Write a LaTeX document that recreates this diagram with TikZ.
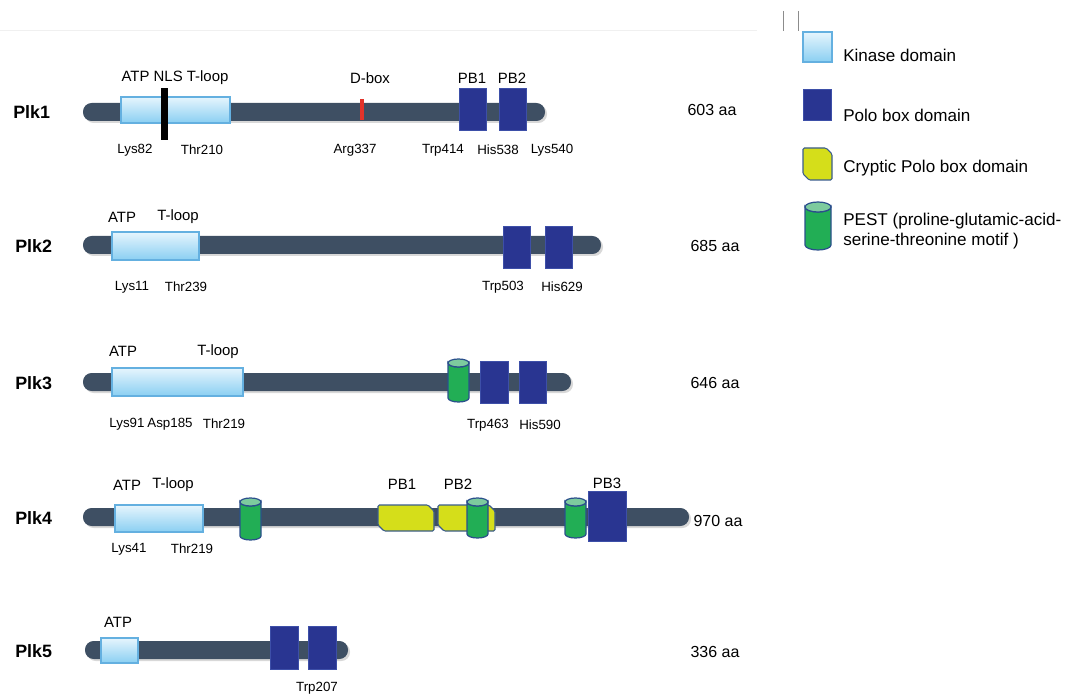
\documentclass[tikz,border=0pt]{standalone}
\usepackage{fontspec}
\setmainfont{Liberation Sans}
\definecolor{barc}{HTML}{3E4F63}
\definecolor{kint}{HTML}{E6F5FD}
\definecolor{kinbot}{HTML}{8ACFF2}
\definecolor{kinb}{HTML}{64B0E0}
\definecolor{poloc}{HTML}{293591}
\definecolor{polob}{HTML}{3D4FA8}
\definecolor{cryc}{HTML}{D5DE1A}
\definecolor{cryb}{HTML}{3B5C8C}
\definecolor{pestc}{HTML}{22AE55}
\definecolor{pesttopc}{HTML}{7DCB9E}
\definecolor{pestb}{HTML}{2B4F8C}
\definecolor{dboxc}{HTML}{E2332A}
\newcommand\pbar[3]{% x1 x2 yc
  \fill[black!30,opacity=0.5,rounded corners=6.5pt] (#1+2,#3-7) rectangle (#2+2,#3+11);
  \fill[barc,rounded corners=6.5pt] (#1,#3-9) rectangle (#2,#3+9);}
\newcommand\kinbox[4]{\draw[kin] (#1,#3) rectangle (#2,#4);}
\newcommand\polobox[4]{\draw[polo] (#1,#3) rectangle (#2,#4);}
\newcommand\crybox[4]{\draw[cry] (#1,#3) -- (#2-6,#3) -- (#2,#3+6) -- (#2,#4) -- (#1+6,#4) -- (#1,#4-6) -- cycle;}
\newcommand\pestcyl[5]{% x1 x2 y1 y2 ry
  \draw[pestbody] (#1,#3+#5) -- (#1,#4-#5) arc[start angle=180,end angle=0,x radius={(#2-#1)/2},y radius=#5] -- (#2,#3+#5) arc[start angle=0,end angle=180,x radius={(#2-#1)/2},y radius=#5] -- cycle;
  \draw[pesttop] ({(#1+#2)/2},#3+#5) ellipse[x radius={(#2-#1)/2},y radius=#5];}
\tikzset{
 kin/.style={draw=kinb, line width=0.9pt, top color=kint, bottom color=kinbot},
 polo/.style={fill=poloc, draw=polob, line width=0.6pt},
 cry/.style={fill=cryc, draw=cryb, line width=0.8pt, rounded corners=1pt},
 pestbody/.style={fill=pestc, draw=pestb, line width=0.9pt},
 pesttop/.style={fill=pesttopc, draw=pestb, line width=0.9pt},
 lab/.style={inner sep=0pt, font=\fontsize{10}{12}\selectfont},
 toplab/.style={inner sep=0pt, font=\fontsize{11.2}{13}\selectfont},
 pname/.style={inner sep=0pt, anchor=west, font=\bfseries\fontsize{13.4}{15}\selectfont},
 len/.style={inner sep=0pt, font=\fontsize{12}{14}\selectfont},
 leg/.style={inner sep=0pt, anchor=west, align=left, font=\fontsize{12.8}{15.5}\selectfont},
}
\begin{document}
\begin{tikzpicture}[x=0.75pt,y=-0.75pt]
\useasboundingbox (0,0) rectangle (1067,695);
% top decorations
\draw[black!6,line width=0.6pt] (0,30) -- (757,30);
\draw[black!45,line width=0.4pt] (783,11) -- (783,31);
\draw[black!45,line width=0.4pt] (798,11) -- (798,31);

% ---------- Plk1 ----------
\pbar{83}{545}{112}
\kinbox{121}{230}{97}{123}
\fill[black] (161,88) rectangle (168,140);
\fill[dboxc] (360,99) rectangle (364,120);
\polobox{459}{486}{88}{130}
\polobox{499}{526}{88}{130}
\node[pname] (n1) at (13,112) {Plk1};
\node[toplab] (t1a) at (175,78) {ATP NLS T-loop};
\node[toplab] (t1b) at (370,78) {D-box};
\node[toplab] (t1c) at (472,78) {PB1};
\node[toplab] (t1d) at (512,78) {PB2};
\node[lab] (b1a) at (135,150) {Lys82};
\node[lab] (b1b) at (202,150) {Thr210};
\node[lab] (b1c) at (355,150) {Arg337};
\node[lab] (b1d) at (443,150) {Trp414};
\node[lab] (b1e) at (498,150) {His538};
\node[lab] (b1f) at (552,150) {Lys540};
\node[len] (l1) at (712,110) {603 aa};

% ---------- Plk2 ----------
\pbar{83}{601}{245}
\kinbox{112}{199}{232}{260}
\polobox{503}{530}{226}{268}
\polobox{545}{572}{226}{268}
\node[pname] (n2) at (15,246) {Plk2};
\node[toplab] (t2a) at (122,217) {ATP};
\node[toplab] (t2b) at (178,217) {T-loop};
\node[lab] (b2a) at (132,287) {Lys11};
\node[lab] (b2b) at (186,287) {Thr239};
\node[lab] (b2c) at (503,287) {Trp503};
\node[lab] (b2d) at (562,287) {His629};
\node[len] (l2) at (715,246) {685 aa};

% ---------- Plk3 ----------
\pbar{83}{571}{382}
\kinbox{112}{243}{368}{396}
\pestcyl{448}{469}{359}{402}{4}
\polobox{480}{508}{361}{403}
\polobox{519}{546}{361}{403}
\node[pname] (n3) at (15,383) {Plk3};
\node[toplab] (t3a) at (123,351) {ATP};
\node[toplab] (t3b) at (218,352) {T-loop};
\node[lab] (b3a) at (127,424) {Lys91};
\node[lab] (b3b) at (170,424) {Asp185};
\node[lab] (b3c) at (224,424) {Thr219};
\node[lab] (b3d) at (488,425) {Trp463};
\node[lab] (b3e) at (540,425) {His590};
\node[len] (l3) at (715,383) {646 aa};

% ---------- Plk4 ----------
\pbar{83}{689}{517}
\kinbox{115}{203}{505}{532}
\pestcyl{240}{261}{498}{540}{4}
\crybox{378}{434}{505}{531}
\crybox{438}{495}{505}{531}
\pestcyl{467}{488}{498}{538}{4}
\pestcyl{565}{586}{498}{538}{4}
\polobox{588}{626}{491}{541}
\node[pname] (n4) at (15,518) {Plk4};
\node[toplab] (t4a) at (127,485) {ATP};
\node[toplab] (t4b) at (173,485) {T-loop};
\node[toplab] (t4c) at (402,484) {PB1};
\node[toplab] (t4d) at (458,484) {PB2};
\node[toplab] (t4e) at (607,483) {PB3};
\node[lab] (b4a) at (129,549) {Lys41};
\node[lab] (b4b) at (192,549) {Thr219};
\node[len] (l4) at (718,521) {970 aa};

% ---------- Plk5 ----------
\pbar{85}{348}{650}
\kinbox{101}{138}{638}{663}
\polobox{270}{298}{626}{669}
\polobox{308}{336}{626}{669}
\node[pname] (n5) at (15,651) {Plk5};
\node[toplab] (t5a) at (118,622) {ATP};
\node[lab] (b5a) at (317,688) {Trp207};
\node[len] (l5) at (715,652) {336 aa};

% ---------- Legend ----------
\kinbox{803}{832}{32}{62}
\polobox{803}{831}{89}{120}
\crybox{803}{832}{148}{180}
\pestcyl{805}{831}{202}{250}{5}
\node[leg] (g1) at (843,55) {Kinase domain};
\node[leg] (g2) at (843,115) {Polo box domain};
\node[leg] (g3) at (843,168) {Cryptic Polo box domain};
\node[leg] (g4) at (843,231) {PEST (proline-glutamic-acid-\\serine-threonine motif )};
\end{tikzpicture}
\end{document}
